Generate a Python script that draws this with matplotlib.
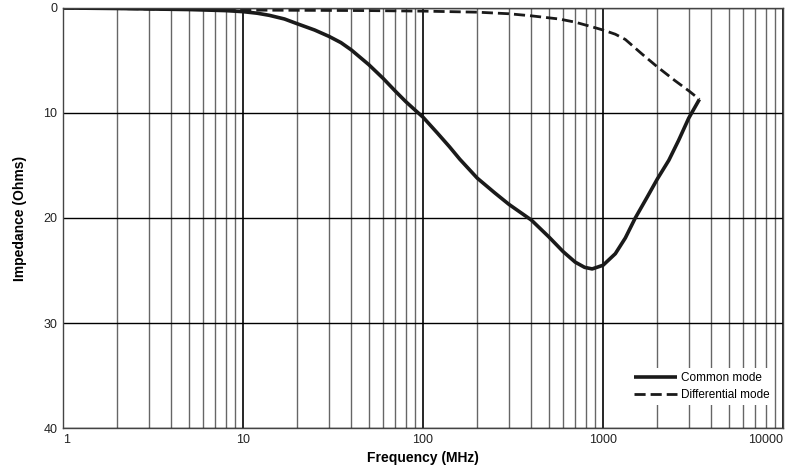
import numpy as np
import matplotlib.pyplot as plt
from matplotlib.ticker import FixedLocator, NullFormatter

plt.rcParams['font.family'] = ['Liberation Sans', 'DejaVu Sans']

# common mode impedance (MHz, Ohms)
cm_freq = [1, 2, 5, 8, 10, 12, 14, 17, 20, 25, 30, 35, 40, 50, 60, 70, 80,
           90, 100, 120, 140, 160, 200, 250, 300, 400, 500, 600, 700, 790,
           870, 1000, 1170, 1330, 1510, 1760, 2000, 2320, 2630, 2990, 3430]
cm_ohms = [0.0, 0.05, 0.15, 0.25, 0.35, 0.5, 0.7, 1.05, 1.5, 2.1, 2.7, 3.3,
           4.0, 5.4, 6.7, 7.9, 8.9, 9.7, 10.4, 11.9, 13.2, 14.4, 16.2, 17.6,
           18.7, 20.2, 21.8, 23.2, 24.2, 24.7, 24.85, 24.5, 23.4, 21.9, 20.0,
           18.0, 16.3, 14.5, 12.6, 10.5, 8.7]

# differential mode
dm_freq = [1, 10, 50, 100, 200, 300, 400, 570, 700, 870, 1000, 1170, 1330,
           1650, 2000, 2500, 3000, 3430]
dm_ohms = [0.0, 0.2, 0.25, 0.3, 0.4, 0.55, 0.75, 1.05, 1.35, 1.8, 2.1, 2.5,
           3.0, 4.4, 5.6, 6.9, 7.9, 8.7]

y_ticks = [0, 10, 20, 30, 40]
x_major = [1, 10, 100, 1000, 10000]

fig = plt.figure(figsize=(7.95, 4.69), dpi=100)
ax = fig.add_axes([0.0792, 0.0874, 0.9058, 0.8956])

ax.set_xscale('log')
ax.set_xlim(1, 10000)
ax.set_ylim(40, 0)

minors = [m * 10 ** d for d in range(4) for m in range(2, 10)]
ax.xaxis.set_minor_locator(FixedLocator(minors))
ax.xaxis.set_minor_formatter(NullFormatter())
ax.xaxis.set_major_locator(FixedLocator(x_major))
ax.set_xticklabels([str(v) for v in x_major])
ax.set_yticks(y_ticks)
ax.set_yticklabels([str(v) for v in y_ticks])

ax.grid(True, which='minor', axis='x', color='#666666', lw=1.0)
ax.grid(True, which='major', axis='x', color='black', lw=1.2)
ax.grid(True, which='major', axis='y', color='black', lw=1.0)
ax.set_axisbelow(True)

ax.tick_params(which='both', length=0, labelsize=9, colors='#222222', pad=4)
labs = ax.get_xticklabels()
labs[0].set_ha('left')
labs[-1].set_ha('right')

for s in ax.spines.values():
    s.set_color('#444444')
    s.set_linewidth(1.0)

ax.plot(cm_freq, cm_ohms, color='#1a1a1a', lw=2.6, label='Common mode',
        solid_joinstyle='round', solid_capstyle='butt')
ax.plot(dm_freq, dm_ohms, color='#1a1a1a', lw=2.0, ls=(0, (4, 1.8)),
        dash_joinstyle='round', label='Differential mode')

leg = ax.legend(loc='lower right', bbox_to_anchor=(0.995, 0.041), frameon=True,
                fontsize=8.5, handlelength=3.6, handletextpad=0.4,
                borderpad=0.3, labelspacing=0.45)
leg.get_frame().set_edgecolor('none')
leg.get_frame().set_facecolor('white')
leg.get_frame().set_alpha(1)

ax.set_xlabel('Frequency (MHz)', fontsize=10, fontweight='bold', labelpad=4)
ax.set_ylabel('Impedance (Ohms)', fontsize=10, fontweight='bold', labelpad=12)

fig.savefig('out.png', dpi=100)
